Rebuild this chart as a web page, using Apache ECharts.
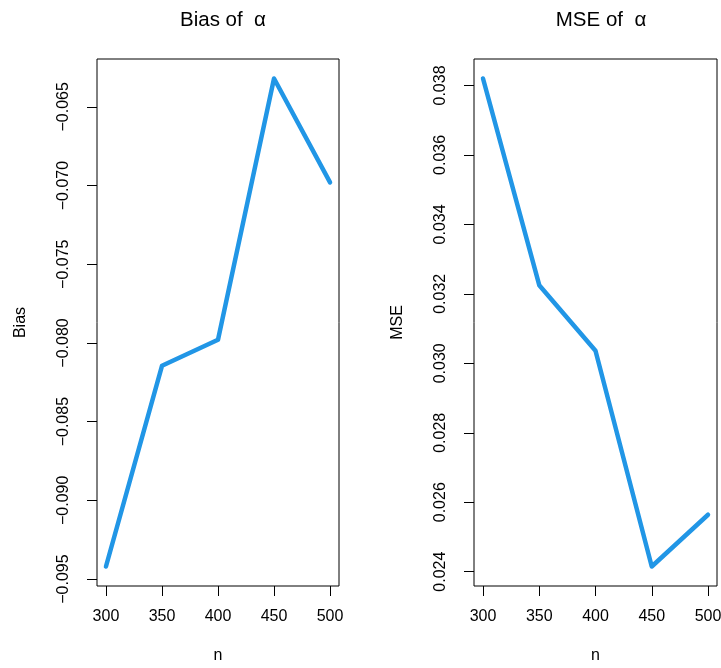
<!DOCTYPE html>
<html>
<head>
<meta charset="utf-8">
<script src="https://cdn.jsdelivr.net/npm/echarts@6/dist/echarts.min.js"></script>
<style>
  html, body { margin: 0; padding: 0; background: #fff; }
  #chart { width: 721px; height: 668px; }
</style>
</head>
<body>
<div id="chart"></div>
<script>
// Sample sizes and the estimated bias / MSE of alpha at each
const nValues = [300, 350, 400, 450, 500];
const biasValues = [-0.0942, -0.08145, -0.0798, -0.0632, -0.0698];
const mseValues = [0.0382, 0.03225, 0.03036, 0.02415, 0.02564];

// Tick positions
const nTicks = [300, 350, 400, 450, 500];
const biasTicks = [-0.095, -0.090, -0.085, -0.080, -0.075, -0.070, -0.065];
const mseTicks = [0.024, 0.026, 0.028, 0.030, 0.032, 0.034, 0.036, 0.038];

const FONT = '"Liberation Sans", Arial, Helvetica, sans-serif';
const LINE_COLOR = '#2196E6';

// Base-graphics style range: data range padded by 4% on each side
function paddedRange(vals) {
  const lo = Math.min(...vals), hi = Math.max(...vals);
  const pad = (hi - lo) * 0.04;
  return [lo - pad, hi + pad];
}

const fmt3 = v => v.toFixed(3).replace('-', '\u2212');

const xRange = paddedRange(nValues);
const biasRange = paddedRange(biasValues);
const mseRange = paddedRange(mseValues);

function xAxisFor(gridIndex) {
  return {
    type: 'value', gridIndex,
    min: xRange[0], max: xRange[1],
    name: 'n', nameLocation: 'middle', nameGap: 62,
    nameTextStyle: { color: '#000', fontSize: 16, fontFamily: FONT },
    axisLine: { show: false },
    splitLine: { show: false },
    axisTick: { show: true, inside: false, length: 10, customValues: nTicks,
      lineStyle: { color: '#000', width: 1 } },
    axisLabel: { show: true, customValues: nTicks, margin: 23, color: '#000',
      fontSize: 16, fontFamily: FONT, hideOverlap: false,
      formatter: v => String(Math.round(v)) }
  };
}

function yAxisFor(gridIndex, range, ticks, name) {
  return {
    type: 'value', gridIndex,
    min: range[0], max: range[1],
    name, nameLocation: 'middle', nameGap: 68, nameRotate: 90,
    nameTextStyle: { color: '#000', fontSize: 16, fontFamily: FONT },
    axisLine: { show: false },
    splitLine: { show: false },
    axisTick: { show: true, inside: false, length: 10, customValues: ticks,
      lineStyle: { color: '#000', width: 1 } },
    axisLabel: { show: true, customValues: ticks, rotate: 90, margin: 25,
      color: '#000', fontSize: 16, fontFamily: FONT, hideOverlap: false,
      formatter: fmt3 }
  };
}

function lineSeries(idx, values) {
  return {
    type: 'line', xAxisIndex: idx, yAxisIndex: idx,
    data: nValues.map((n, i) => [n, values[i]]),
    showSymbol: false, symbol: 'none', silent: true, animation: false,
    lineStyle: { color: LINE_COLOR, width: 4.5, cap: 'round', join: 'round' }
  };
}

const chart = echarts.init(document.getElementById('chart'), null, { renderer: 'canvas' });
chart.setOption({
  backgroundColor: '#fff',
  animation: false,
  title: [
    { text: 'Bias of  \u03b1', left: 218, top: 5, textAlign: 'center',
      textStyle: { color: '#000', fontSize: 20.5, fontWeight: 'normal', fontFamily: FONT } },
    { text: 'MSE of  \u03b1', left: 596, top: 5, textAlign: 'center',
      textStyle: { color: '#000', fontSize: 20.5, fontWeight: 'normal', fontFamily: FONT } }
  ],
  grid: [
    { left: 97, top: 59, width: 242, height: 527, show: true,
      outerBoundsMode: 'none', containLabel: false,
      borderColor: '#000', borderWidth: 1, backgroundColor: 'transparent' },
    { left: 474, top: 59, width: 243, height: 527, show: true,
      outerBoundsMode: 'none', containLabel: false,
      borderColor: '#000', borderWidth: 1, backgroundColor: 'transparent' }
  ],
  xAxis: [xAxisFor(0), xAxisFor(1)],
  yAxis: [
    yAxisFor(0, biasRange, biasTicks, 'Bias'),
    yAxisFor(1, mseRange, mseTicks, 'MSE')
  ],
  series: [lineSeries(0, biasValues), lineSeries(1, mseValues)]
});
</script>
</body>
</html>
